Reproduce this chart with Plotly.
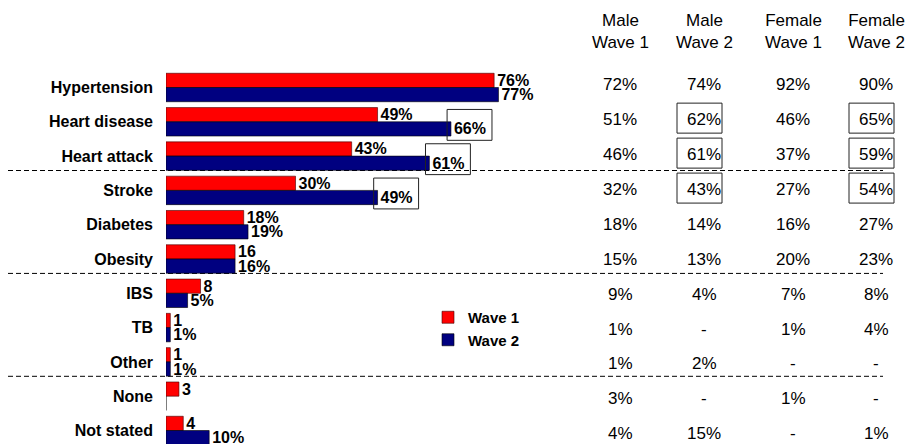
import plotly.graph_objects as go

# ===== DATA =====
categories = ['Hypertension', 'Heart disease', 'Heart attack', 'Stroke', 'Diabetes', 'Obesity',
              'IBS', 'TB', 'Other', 'None', 'Not stated']
wave1 = [76, 49, 43, 30, 18, 16, 8, 1, 1, 3, 4]
wave2 = [77, 66, 61, 49, 19, 16, 5, 1, 1, 0, 10]
wave1_labels = ['76%', '49%', '43%', '30%', '18%', '16', '8', '1', '1', '3', '4']
wave2_labels = ['77%', '66%', '61%', '49%', '19%', '16%', '5%', '1%', '1%', '', '10%']
boxed = [False, True, True, True, False, False, False, False, False, False, False]
group_breaks = [2, 5, 8]  # dashed line drawn under these rows

table_headers = ['Male<br>Wave 1', 'Male<br>Wave 2', 'Female<br>Wave 1', 'Female<br>Wave 2']
male_w1 = [72, 51, 46, 32, 18, 15, 9, 1, 1, 3, 4]
male_w2 = [74, 62, 61, 43, 14, 13, 4, None, 2, None, 15]
female_w1 = [92, 46, 37, 27, 16, 20, 7, 1, None, 1, None]
female_w2 = [90, 65, 59, 54, 27, 23, 8, 4, None, None, 1]
table_cols = [male_w1, male_w2, female_w1, female_w2]
boxed_cols = [False, True, False, True]

# ===== LAYOUT HELPERS (pixels -> paper) =====
W, H = 907, 444
PL, PR, PT, PB = 166, 900, 60, 444
XMAX = 170
ROW0, ROWSTEP = 87.5, 34.3


def px(x):
    return (x - PL) / (PR - PL)


def py(y):
    return (PB - y) / (PB - PT)


FONT = 'Liberation Sans, Arial, sans-serif'
rows = list(range(len(categories)))

fig = go.Figure()
fig.add_trace(go.Bar(y=rows, x=wave1, orientation='h', name='Wave 1',
                     marker=dict(color='#FF0000', line=dict(color='#400000', width=0.6)),
                     text=wave1_labels, textposition='outside', constraintext='none', cliponaxis=False,
                     textfont=dict(family=FONT, size=16, color='black', weight='bold')))
fig.add_trace(go.Bar(y=rows, x=wave2, orientation='h', name='Wave 2',
                     marker=dict(color='#000080', line=dict(color='#000000', width=0.6)),
                     text=wave2_labels, textposition='outside', constraintext='none', cliponaxis=False,
                     textfont=dict(family=FONT, size=16, color='black', weight='bold')))

shapes = []
# dashed separators across chart and table
for r in group_breaks:
    shapes.append(dict(type='line', xref='paper', yref='y', x0=px(8), x1=px(883), y0=r + 0.42, y1=r + 0.42,
                       line=dict(color='black', width=1, dash='5px,3px'), layer='below'))

# boxes round significant wave 2 labels
for i, b in enumerate(boxed):
    if b:
        shapes.append(dict(type='rect', xref='x', yref='y', x0=wave2[i] - 0.9, x1=wave2[i] + 9.5,
                           y0=i - 0.36, y1=i + 0.54, line=dict(color='#222', width=1)))

annotations = []
col_centers = [620, 704, 793, 876]
for c, head in zip(col_centers, table_headers):
    annotations.append(dict(text=head, xref='paper', yref='paper', x=px(c), y=py(31.5), showarrow=False,
                            xanchor='center', yanchor='middle', font=dict(family=FONT, size=17, color='black')))

for ci, (c, col) in enumerate(zip(col_centers, table_cols)):
    for i, v in enumerate(col):
        ty = 84.15 + 34.98 * i
        annotations.append(dict(text='-' if v is None else f'{v}%', xref='paper', yref='paper',
                                x=px(c), y=py(ty), showarrow=False, xanchor='center', yanchor='middle',
                                font=dict(family=FONT, size=17, color='black')))
        if boxed_cols[ci] and boxed[i]:
            shapes.append(dict(type='rect', xref='paper', yref='paper', x0=px(c - 27), x1=px(c + 18),
                               y0=py(ty + 14), y1=py(ty - 16), line=dict(color='#222', width=1)))

fig.update_layout(
    width=W, height=H,
    margin=dict(l=PL, r=W - PR, t=PT, b=H - PB),
    barmode='group', bargap=0.17, bargroupgap=0,
    plot_bgcolor='white', paper_bgcolor='white',
    font=dict(family=FONT, color='black'),
    shapes=shapes, annotations=annotations,
    showlegend=True,
    legend=dict(x=px(428), y=py(301), xanchor='left', yanchor='top', bgcolor='rgba(0,0,0,0)',
                font=dict(family=FONT, size=15, color='black', weight='bold'), traceorder='normal',
                itemwidth=30, tracegroupgap=0),
)
fig.update_xaxes(range=[0, XMAX], visible=False, showgrid=False, zeroline=False)
fig.update_yaxes(range=[(PB - ROW0) / ROWSTEP, (PT - ROW0) / ROWSTEP], tickvals=rows, ticktext=categories,
                 showgrid=False, zeroline=False, showline=False, ticks='', ticklabelstandoff=12,
                 tickfont=dict(family=FONT, size=16, color='black', weight='bold'))

fig.write_html('out.html', config={'displayModeBar': False},
               post_script="document.body.style.margin='0';")
